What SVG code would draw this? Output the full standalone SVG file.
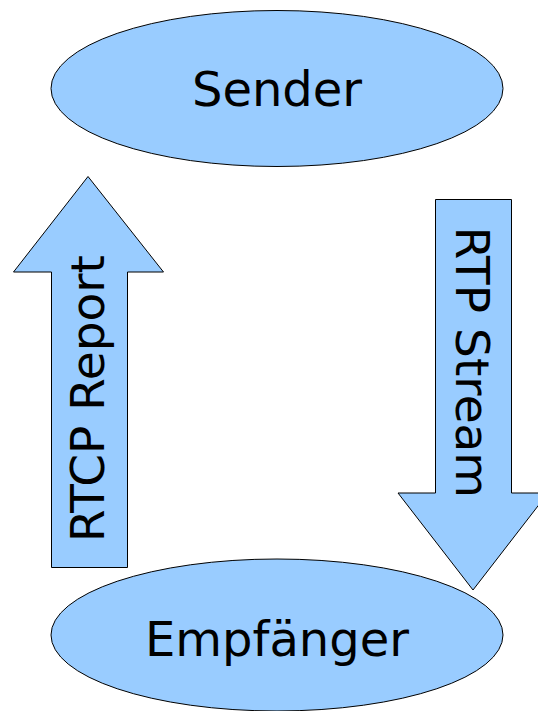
<svg xmlns="http://www.w3.org/2000/svg" width="538" height="711" viewBox="0 0 538 711">
<style>
.shape{fill:#99ccff;stroke:#000;stroke-width:1}
.lbl{font-family:"DejaVu Sans",sans-serif;fill:#000}
</style>
<rect width="538" height="711" fill="#fff"/>
<g id="connectors">
<g id="rtcp-report">
<path class="shape" d="M51.5,567.5 L51.5,272 L13.5,272 L88,176.5 L163.5,272 L127.5,272 L127.5,567.5 Z"/>
<text class="lbl" font-size="47" text-anchor="middle" transform="translate(104,398.5) rotate(-90)">RTCP Report</text>
</g>
<g id="rtp-stream">
<path class="shape" d="M435.5,199.5 L511.5,199.5 L511.5,493 L548,493 L473,590 L398,493 L435.5,493 Z"/>
<text class="lbl" font-size="47" text-anchor="middle" transform="translate(456,362.5) rotate(90)">RTP Stream</text>
</g>
</g>
<g id="sender">
<ellipse class="shape" cx="277" cy="88.5" rx="226" ry="78"/>
<text class="lbl" font-size="48" x="277" y="106" text-anchor="middle">Sender</text>
</g>
<g id="empfaenger">
<ellipse class="shape" cx="277" cy="635" rx="226" ry="76"/>
<text class="lbl" font-size="48" x="277" y="656" text-anchor="middle">Empfänger</text>
</g>
</svg>
